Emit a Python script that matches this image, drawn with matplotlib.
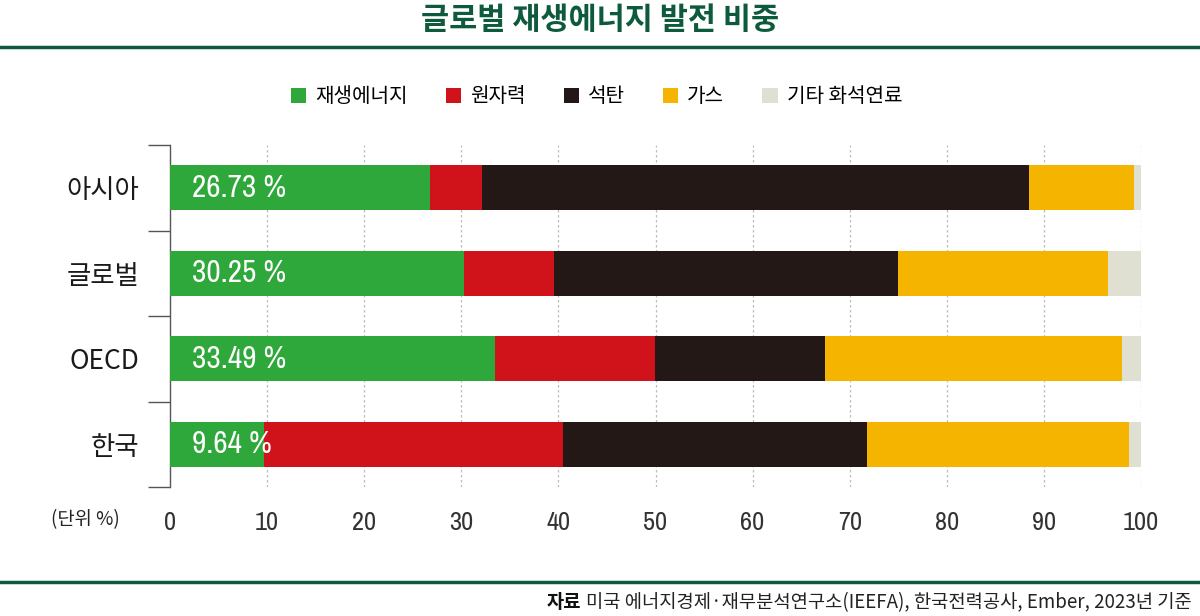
import numpy as np
import matplotlib as mpl
import matplotlib.pyplot as plt
from matplotlib import font_manager

mpl.rcParams['font.family'] = ['Noto Sans CJK KR', 'DejaVu Sans']

# pick a narrow font for numbers if one is installed
narrow = None
for f in font_manager.fontManager.ttflist:
    if ('Narrow' in f.name or 'Condensed' in f.name) and narrow is None:
        narrow = f.name
num_family = [narrow, 'DejaVu Sans'] if narrow else ['Roboto', 'DejaVu Sans']

# ---- data ---------------------------------------------------------------
regions = ['아시아', '글로벌', 'OECD', '한국']
series = ['재생에너지', '원자력', '석탄', '가스', '기타 화석연료']
renew = [26.73, 30.25, 33.49, 9.64]
nuclear = [5.4, 9.25, 16.5, 30.8]
coal = [56.3, 35.5, 17.5, 31.3]
gas = [10.8, 21.6, 30.6, 27.0]
other = [0.77, 3.4, 1.91, 1.26]
xticks = [0, 10, 20, 30, 40, 50, 60, 70, 80, 90, 100]

colors = ['#2ea83a', '#d0121b', '#231816', '#f5b400', '#dfe0d2']
green_dark = '#0d5a3d'

# ---- figure -------------------------------------------------------------
fig = plt.figure(figsize=(12, 6.16), dpi=100)
ax = fig.add_axes([170/1200, 1-487/616, (1141-170)/1200, (487-145)/616])

ypos = np.arange(len(regions))
left = np.zeros(len(regions))
bars = []
for vals, col, name in zip([renew, nuclear, coal, gas, other], colors, series):
    b = ax.barh(ypos, vals, left=left, height=0.53, color=col, label=name, zorder=3)
    bars.append(b)
    left = left + np.array(vals)

for i, v in enumerate(renew):
    ax.text(2.3, ypos[i], '%.2f %%' % v, color='white', fontsize=22.5,
            va='center', ha='left', zorder=4, family=num_family)

ax.set_xlim(0, 100)
ax.set_ylim(3.5, -0.5)
ax.set_xticks(xticks)
ax.set_xticklabels([str(t) for t in xticks], fontsize=19, family=num_family,
                   fontweight='light')
ax.tick_params(axis='x', length=0, pad=17, colors='#333333')

# y: boundary ticks as major, labels as minor
ax.set_yticks([-0.5, 0.5, 1.5, 2.5, 3.5])
ax.set_yticklabels([])
ax.tick_params(axis='y', which='major', length=16, width=1, color='#555555')
ax.set_yticks(ypos, minor=True)
ax.set_yticklabels(regions, minor=True, fontsize=19, color='#1a1a1a',
                   fontweight='medium')
ax.tick_params(axis='y', which='minor', length=0, pad=22)

for t in xticks[1:]:
    ax.axvline(t, color='#bdbdbd', lw=0.9, ls=(0, (2, 2)), zorder=1)

for s in ['top', 'right', 'bottom']:
    ax.spines[s].set_visible(False)
ax.spines['left'].set_color('#555555')
ax.spines['left'].set_linewidth(1)

leg = fig.legend(handles=bars, loc='center', bbox_to_anchor=(0.497, 1-97/616),
                 ncol=5, frameon=False, fontsize=14.5, handlelength=0.75,
                 handleheight=0.75, handletextpad=0.45, columnspacing=1.9)

fig.text(0.5, 1-20/616, '글로벌 재생에너지 발전 비중', ha='center', va='center',
         fontsize=22, fontweight='bold', color=green_dark)
fig.add_artist(plt.Line2D([0, 1], [1-47/616, 1-47/616], color=green_dark, lw=2.5))
fig.add_artist(plt.Line2D([0, 1], [1-582/616, 1-582/616], color=green_dark, lw=2.5))

fig.text(85/1200, 1-520/616, '(단위 %)', ha='center', va='center', fontsize=13.5,
         color='#222222')

src = fig.text(0.993, 1-603/616,
               '미국 에너지경제·재무분석연구소(IEEFA), 한국전력공사, Ember, 2023년 기준',
               ha='right', va='center', fontsize=13.5, color='#222222')
fig.canvas.draw()
bb = src.get_window_extent().transformed(fig.transFigure.inverted())
fig.text(bb.x0 - 0.004, 1-603/616, '자료', ha='right', va='center', fontsize=13.5,
         fontweight='bold', color='#111111')

plt.savefig('out.png', dpi=100)
